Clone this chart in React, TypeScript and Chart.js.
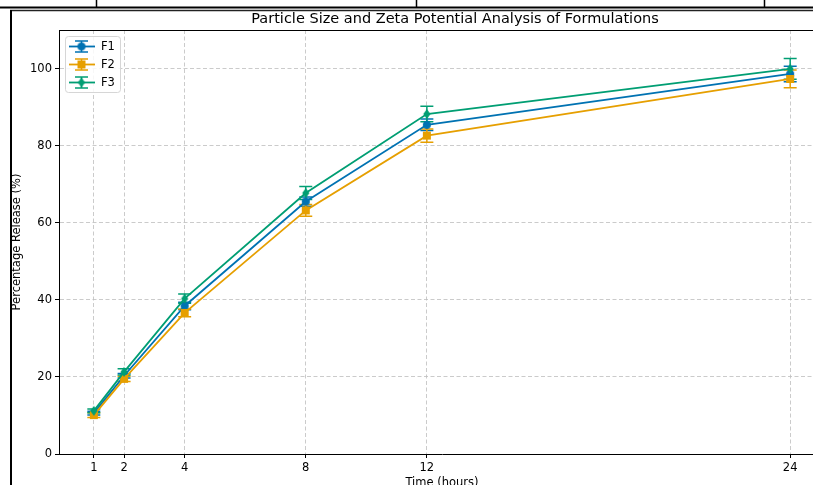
import React, { useEffect, useRef } from 'react';
import { Chart, registerables } from 'chart.js';

Chart.register(...registerables);

const hours = [1, 2, 4, 8, 12, 24];
const xTicks = [1, 2, 4, 8, 12, 24];
const yTicks = [0, 20, 40, 60, 80, 100];
const seriesNames = ['F1', 'F2', 'F3'];
const seriesColors = ['#0072B2', '#E69F00', '#009E73'];
const seriesShapes = ['circle', 'square', 'diamond'];
const f1Values = [10.6, 20.3, 38.4, 65.5, 85.4, 98.6];
const f2Values = [10.1, 19.5, 36.6, 63.2, 82.6, 97.3];
const f3Values = [11.2, 21.3, 40.3, 67.7, 88.2, 99.9];
const f1Errors = [0.5, 0.6, 1.0, 1.2, 1.5, 2.0];
const f2Errors = [0.6, 0.7, 1.0, 1.5, 1.7, 2.3];
const f3Errors = [0.5, 0.8, 1.2, 1.7, 2.0, 2.7];
const titleText = 'Particle Size and Zeta Potential Analysis of Formulations';
const xLabel = 'Time (hours)';
const yLabel = 'Percentage Release (%)';

const FONT = '"DejaVu Sans", sans-serif';
const LABEL_SIZE = 11.5;

function makeMarker(shape: string, color: string): HTMLCanvasElement {
  const c = document.createElement('canvas');
  c.width = 12;
  c.height = 12;
  const ctx = c.getContext('2d')!;
  ctx.fillStyle = color;
  ctx.beginPath();
  if (shape === 'circle') {
    ctx.arc(6, 6, 4, 0, Math.PI * 2);
  } else if (shape === 'square') {
    ctx.rect(2, 2, 8, 8);
  } else {
    ctx.moveTo(6, 1);
    ctx.lineTo(9.6, 6);
    ctx.lineTo(6, 11);
    ctx.lineTo(2.4, 6);
    ctx.closePath();
  }
  ctx.fill();
  return c;
}

export default function App() {
  const ref = useRef<HTMLCanvasElement | null>(null);

  useEffect(() => {
    if (!ref.current) return;
    const values = [f1Values, f2Values, f3Values];
    const errors = [f1Errors, f2Errors, f3Errors];
    const markers = seriesShapes.map((s, i) => makeMarker(s, seriesColors[i]));

    const datasets = seriesNames.map((name, i) => ({
      label: name,
      data: hours.map((h, j) => ({ x: h, y: values[i][j] })),
      borderColor: seriesColors[i],
      backgroundColor: seriesColors[i],
      borderWidth: 1.8,
      pointStyle: markers[i] as any,
      pointRadius: 5,
      tension: 0,
      order: 3 - i,
    }));

    const errorBars = {
      id: 'errorBars',
      beforeDatasetsDraw(chart: any) {
        const ctx = chart.ctx;
        const ys = chart.scales.y;
        ctx.save();
        [0, 1, 2].forEach((i) => {
          const meta = chart.getDatasetMeta(i);
          ctx.strokeStyle = seriesColors[i];
          ctx.lineWidth = 1.5;
          meta.data.forEach((pt: any, j: number) => {
            const v = values[i][j];
            const e = errors[i][j];
            const yt = ys.getPixelForValue(v + e);
            const yb = ys.getPixelForValue(v - e);
            ctx.beginPath();
            ctx.moveTo(pt.x, yt);
            ctx.lineTo(pt.x, yb);
            ctx.moveTo(pt.x - 6.5, yt);
            ctx.lineTo(pt.x + 6.5, yt);
            ctx.moveTo(pt.x - 6.5, yb);
            ctx.lineTo(pt.x + 6.5, yb);
            ctx.stroke();
          });
        });
        ctx.restore();
      },
    };

    const decor = {
      id: 'decor',
      beforeDraw(chart: any) {
        const ctx = chart.ctx;
        ctx.save();
        ctx.fillStyle = '#ffffff';
        ctx.fillRect(0, 0, chart.width, chart.height);
        ctx.strokeStyle = '#000000';
        ctx.lineWidth = 2;
        ctx.beginPath();
        ctx.moveTo(0, 7.5);
        ctx.lineTo(chart.width, 7.5);
        ctx.stroke();
        ctx.lineWidth = 1.5;
        ctx.beginPath();
        [96.5, 416.5, 764.5].forEach((x) => {
          ctx.moveTo(x, 0);
          ctx.lineTo(x, 7);
        });
        ctx.stroke();
        ctx.strokeStyle = '#222222';
        ctx.lineWidth = 1.5;
        ctx.beginPath();
        ctx.moveTo(10, 10.5);
        ctx.lineTo(chart.width, 10.5);
        ctx.stroke();
        ctx.strokeStyle = '#000000';
        ctx.lineWidth = 2;
        ctx.beginPath();
        ctx.moveTo(11, 10);
        ctx.lineTo(11, chart.height);
        ctx.stroke();
        ctx.restore();
      },
      afterDraw(chart: any) {
        const ctx = chart.ctx;
        const a = chart.chartArea;
        ctx.save();
        ctx.strokeStyle = '#000000';
        ctx.lineWidth = 1;
        ctx.beginPath();
        ctx.moveTo(a.left, a.top + 0.5);
        ctx.lineTo(a.right, a.top + 0.5);
        ctx.lineTo(a.right, a.bottom);
        ctx.stroke();

        ctx.fillStyle = '#000000';
        ctx.textAlign = 'center';
        ctx.textBaseline = 'middle';
        ctx.font = '14.5px ' + FONT;
        ctx.fillText(titleText, 455, 19);
        ctx.font = LABEL_SIZE + 'px ' + FONT;
        ctx.fillText(xLabel, (a.left + a.right) / 2, 483);
        ctx.save();
        ctx.translate(17.5, (a.top + a.bottom) / 2);
        ctx.rotate(-Math.PI / 2);
        ctx.fillText(yLabel, 0, 0);
        ctx.restore();

        // legend
        const lx = 65.5, ly = 36.5, lw = 55, lh = 56, r = 3;
        ctx.beginPath();
        ctx.moveTo(lx + r, ly);
        ctx.lineTo(lx + lw - r, ly);
        ctx.arcTo(lx + lw, ly, lx + lw, ly + r, r);
        ctx.lineTo(lx + lw, ly + lh - r);
        ctx.arcTo(lx + lw, ly + lh, lx + lw - r, ly + lh, r);
        ctx.lineTo(lx + r, ly + lh);
        ctx.arcTo(lx, ly + lh, lx, ly + lh - r, r);
        ctx.lineTo(lx, ly + r);
        ctx.arcTo(lx, ly, lx + r, ly, r);
        ctx.closePath();
        ctx.fillStyle = 'rgba(255,255,255,0.85)';
        ctx.fill();
        ctx.strokeStyle = '#d6d6d6';
        ctx.lineWidth = 1;
        ctx.stroke();
        seriesNames.forEach((name, i) => {
          const y = 46.5 + i * 18;
          const cx = 81.5;
          ctx.strokeStyle = seriesColors[i];
          ctx.lineWidth = 1.8;
          ctx.beginPath();
          ctx.moveTo(69, y);
          ctx.lineTo(95, y);
          ctx.stroke();
          ctx.lineWidth = 1.5;
          ctx.beginPath();
          ctx.moveTo(cx, y - 5.5);
          ctx.lineTo(cx, y + 5.5);
          ctx.moveTo(cx - 6.5, y - 5.5);
          ctx.lineTo(cx + 6.5, y - 5.5);
          ctx.moveTo(cx - 6.5, y + 5.5);
          ctx.lineTo(cx + 6.5, y + 5.5);
          ctx.stroke();
          ctx.drawImage(markers[i], cx - 6, y - 6);
          ctx.fillStyle = '#000000';
          ctx.textAlign = 'left';
          ctx.font = LABEL_SIZE + 'px ' + FONT;
          ctx.fillText(name, 101, y + 0.5);
        });
        ctx.restore();
      },
    };

    const chart = new Chart(ref.current, {
      type: 'line',
      data: { datasets: datasets as any },
      options: {
        animation: false,
        responsive: false,
        devicePixelRatio: 1,
        layout: { padding: { top: 30, right: 25, left: 0, bottom: 0 } },
        plugins: {
          legend: { display: false },
          title: { display: false },
          tooltip: { enabled: false },
        },
        scales: {
          x: {
            type: 'linear',
            min: -0.15,
            max: 25.15,
            afterBuildTicks: (s: any) => {
              s.ticks = xTicks.map((v) => ({ value: v }));
            },
            afterFit: (s: any) => {
              s.height = 31;
            },
            ticks: {
              color: '#000000',
              font: { family: FONT, size: LABEL_SIZE },
              padding: 3,
              maxRotation: 0,
              autoSkip: false,
            },
            grid: {
              color: 'rgba(190,190,190,0.8)',
              lineWidth: 1,
              tickColor: '#000000',
              tickLength: 4,
              tickWidth: 1,
            },
            border: { display: true, color: '#000000', width: 1, dash: [4, 2.5] },
          },
          y: {
            type: 'linear',
            min: 0,
            max: 110,
            afterBuildTicks: (s: any) => {
              s.ticks = yTicks.map((v) => ({ value: v }));
            },
            afterFit: (s: any) => {
              s.width = 59;
            },
            ticks: {
              color: '#000000',
              font: { family: FONT, size: LABEL_SIZE },
              padding: 3,
              autoSkip: false,
            },
            grid: {
              color: 'rgba(190,190,190,0.8)',
              lineWidth: 1,
              tickColor: '#000000',
              tickLength: 4,
              tickWidth: 1,
            },
            border: { display: true, color: '#000000', width: 1, dash: [4, 2.5] },
          },
        },
      },
      plugins: [errorBars, decor],
    });

    return () => chart.destroy();
  }, []);

  return (
    <div style={{ position: 'absolute', left: 0, top: 0, width: 813, height: 485, overflow: 'hidden', background: '#fff' }}>
      <canvas ref={ref} width={850} height={485} style={{ display: 'block' }} />
    </div>
  );
}
